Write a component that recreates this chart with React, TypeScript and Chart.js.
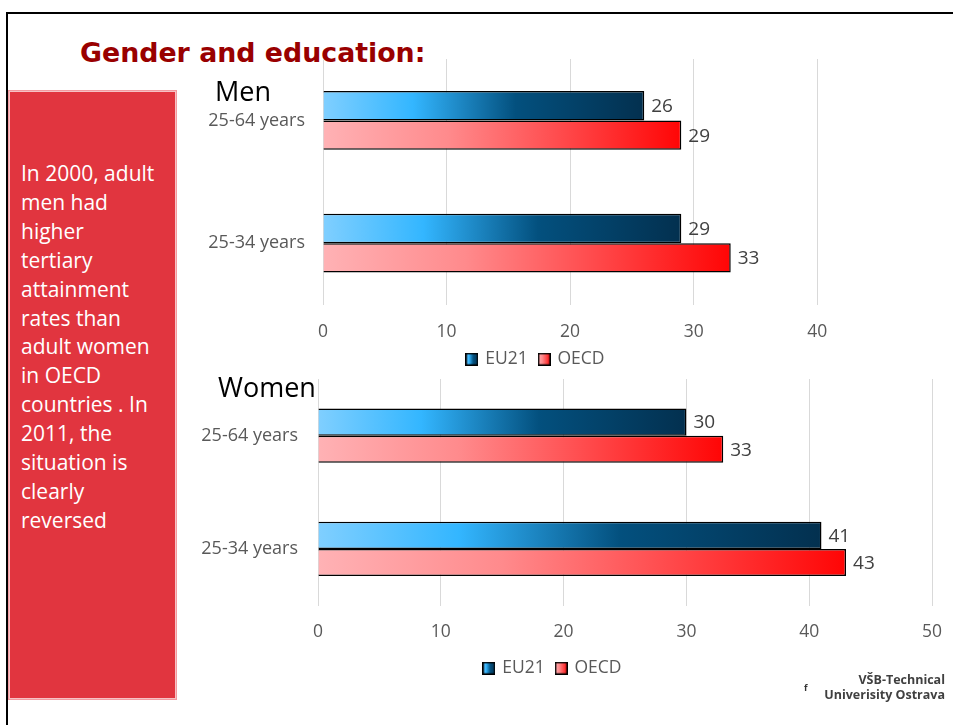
import React, { useEffect, useRef } from 'react';
import { Chart, registerables } from 'chart.js';

Chart.register(...registerables);
Chart.defaults.font.family = "'Open Sans', sans-serif";

// ---- data ----
const SERIES_NAMES = ['EU21', 'OECD'];
const CATEGORIES = ['25-64 years', '25-34 years'];
const MEN_EU21 = [26, 29];
const MEN_OECD = [29, 33];
const WOMEN_EU21 = [30, 41];
const WOMEN_OECD = [33, 43];
const MEN_TICKS = [0, 10, 20, 30, 40];
const WOMEN_TICKS = [0, 10, 20, 30, 40, 50];

const EU_STOPS: [number, string][] = [
  [0, '#80CFFF'],
  [0.28, '#33B6FF'],
  [0.6, '#03507E'],
  [1, '#03304F'],
];
const OECD_STOPS: [number, string][] = [
  [0, '#FFB2B5'],
  [0.35, '#FF8A8C'],
  [0.65, '#FF4D4F'],
  [1, '#FF0505'],
];

function barGradient(stops: [number, string][], fallback: string) {
  return (ctx: any) => {
    const chart = ctx.chart;
    const xs = chart.scales && chart.scales.x;
    if (!xs || ctx.type !== 'data' || typeof ctx.raw !== 'number') return fallback;
    const x0 = xs.getPixelForValue(0);
    const x1 = xs.getPixelForValue(ctx.raw);
    if (!isFinite(x0) || !isFinite(x1) || x1 === x0) return fallback;
    const g = chart.ctx.createLinearGradient(x0, 0, x1, 0);
    stops.forEach(([o, c]) => g.addColorStop(o, c));
    return g;
  };
}

function legendSwatch(stops: [number, string][]) {
  const c = document.createElement('canvas');
  c.width = 13;
  c.height = 13;
  const g2 = c.getContext('2d')!;
  const g = g2.createLinearGradient(0, 0, 13, 0);
  stops.forEach(([o, col]) => g.addColorStop(o, col));
  g2.fillStyle = g;
  g2.fillRect(0, 0, 13, 13);
  g2.strokeStyle = '#000';
  g2.lineWidth = 1.5;
  g2.strokeRect(0.75, 0.75, 11.5, 11.5);
  return c;
}

const valueLabels = {
  id: 'valueLabels',
  afterDatasetsDraw(chart: any) {
    const ctx = chart.ctx;
    ctx.save();
    ctx.font = "19px 'Open Sans', sans-serif";
    ctx.fillStyle = '#404040';
    ctx.textAlign = 'left';
    ctx.textBaseline = 'middle';
    chart.data.datasets.forEach((ds: any, i: number) => {
      const meta = chart.getDatasetMeta(i);
      meta.data.forEach((bar: any, j: number) => {
        ctx.fillText(String(ds.data[j]), bar.x + 7, bar.y + 1);
      });
    });
    ctx.restore();
  },
};

type BarProps = {
  left: number;
  top: number;
  width: number;
  height: number;
  eu: number[];
  oecd: number[];
  max: number;
  ticks: number[];
  yWidth: number;
  yPad: number;
  xPad: number;
  xHeight: number;
  padTop: number;
  padRight: number;
};

function BarChart(p: BarProps) {
  const ref = useRef<HTMLCanvasElement>(null);
  useEffect(() => {
    const canvas = ref.current!;
    const euSw = legendSwatch(EU_STOPS);
    const oeSw = legendSwatch(OECD_STOPS);
    const chart = new Chart(canvas, {
      type: 'bar',
      data: {
        labels: CATEGORIES,
        datasets: [
          {
            label: SERIES_NAMES[0],
            data: p.eu,
            backgroundColor: barGradient(EU_STOPS, '#1E7FC0') as any,
            borderColor: '#000000',
            borderWidth: 1.5,
            categoryPercentage: 0.48,
            barPercentage: 1,
          },
          {
            label: SERIES_NAMES[1],
            data: p.oecd,
            backgroundColor: barGradient(OECD_STOPS, '#FF6060') as any,
            borderColor: '#000000',
            borderWidth: 1.5,
            categoryPercentage: 0.48,
            barPercentage: 1,
          },
        ],
      },
      options: {
        indexAxis: 'y',
        responsive: false,
        animation: false,
        devicePixelRatio: 1,
        layout: { padding: { top: p.padTop, left: 0, right: p.padRight, bottom: 0 } },
        scales: {
          x: {
            min: 0,
            max: p.max,
            ticks: { stepSize: 10, padding: p.xPad, color: '#595959', font: { size: 17.5 } },
            grid: { color: '#D9D9D9', drawTicks: false, lineWidth: 1 },
            border: { display: false },
            afterBuildTicks: (s: any) => {
              s.ticks = p.ticks.map((v) => ({ value: v }));
            },
            afterFit: (s: any) => {
              s.height = p.xHeight;
              s.paddingLeft = 0;
              s.paddingRight = 0;
            },
          },
          y: {
            ticks: { padding: p.yPad, color: '#595959', font: { size: 18 } },
            grid: { display: false, drawTicks: false },
            border: { display: false },
            afterFit: (s: any) => {
              s.width = p.yWidth;
              s.paddingTop = 0;
              s.paddingBottom = 0;
            },
          },
        },
        plugins: {
          legend: {
            position: 'bottom',
            labels: {
              usePointStyle: true,
              boxWidth: 9,
              boxHeight: 13,
              padding: 12,
              color: '#595959',
              font: { size: 17.5 },
              generateLabels: () => [
                { text: SERIES_NAMES[0], pointStyle: euSw, fillStyle: '#1E7FC0', strokeStyle: '#000', lineWidth: 1, hidden: false, datasetIndex: 0, fontColor: '#595959' } as any,
                { text: SERIES_NAMES[1], pointStyle: oeSw, fillStyle: '#FF6060', strokeStyle: '#000', lineWidth: 1, hidden: false, datasetIndex: 1, fontColor: '#595959' } as any,
              ],
            },
          },
          tooltip: { enabled: false },
        },
      },
      plugins: [valueLabels],
    });
    return () => chart.destroy();
  }, []);
  return (
    <canvas
      ref={ref}
      width={p.width}
      height={p.height}
      style={{ position: 'absolute', left: p.left, top: p.top, width: p.width, height: p.height }}
    />
  );
}

export default function App() {
  return (
    <div
      style={{
        position: 'fixed',
        left: 0,
        top: 0,
        width: 953,
        height: 725,
        overflow: 'hidden',
        background: '#ffffff',
        fontFamily: "'Open Sans', sans-serif",
      }}
    >
      {/* slide frame */}
      <div
        style={{
          position: 'absolute',
          left: 6,
          top: 12,
          width: 1200,
          height: 1200,
          border: '2px solid #000',
          boxSizing: 'border-box',
        }}
      />
      {/* title */}
      <div
        style={{
          position: 'absolute',
          left: 80,
          top: 37,
          fontFamily: "'DejaVu Sans', Verdana, sans-serif",
          fontWeight: 'bold',
          fontSize: 26.8,
          lineHeight: '31px',
          color: '#990000',
          whiteSpace: 'nowrap',
        }}
      >
        Gender and education:
      </div>
      {/* red side box */}
      <div
        style={{
          position: 'absolute',
          left: 8,
          top: 90,
          width: 169,
          height: 610,
          background: '#E1353F',
          border: '1px solid #F39AA0',
          boxShadow: 'inset 0 0 0 1px #F6C2C5',
          boxSizing: 'border-box',
        }}
      />
      <div
        style={{
          position: 'absolute',
          left: 21,
          top: 159,
          color: '#ffffff',
          fontSize: 21,
          lineHeight: '28.9px',
          whiteSpace: 'nowrap',
        }}
      >
        In 2000, adult
        <br />
        men had
        <br />
        higher
        <br />
        tertiary
        <br />
        attainment
        <br />
        rates than
        <br />
        adult women
        <br />
        in OECD
        <br />
        countries . In
        <br />
        2011, the
        <br />
        situation is
        <br />
        clearly
        <br />
        reversed
      </div>

      <BarChart
        left={193}
        top={50}
        width={686}
        height={328}
        eu={MEN_EU21}
        oecd={MEN_OECD}
        max={45}
        ticks={MEN_TICKS}
        yWidth={130}
        yPad={18}
        xPad={17}
        xHeight={34}
        padTop={9}
        padRight={0}
      />
      <BarChart
        left={174}
        top={370}
        width={778}
        height={317}
        eu={WOMEN_EU21}
        oecd={WOMEN_OECD}
        max={50}
        ticks={WOMEN_TICKS}
        yWidth={144}
        yPad={20}
        xPad={16}
        xHeight={42}
        padTop={9}
        padRight={20}
      />

      <div
        style={{
          position: 'absolute',
          left: 215,
          top: 72,
          fontSize: 27,
          lineHeight: '37px',
          color: '#000',
          whiteSpace: 'nowrap',
        }}
      >
        Men
      </div>
      <div
        style={{
          position: 'absolute',
          left: 218,
          top: 368,
          fontSize: 27,
          lineHeight: '37px',
          color: '#000',
          whiteSpace: 'nowrap',
        }}
      >
        Women
      </div>

      {/* footer */}
      <div
        style={{
          position: 'absolute',
          left: 804,
          top: 681,
          fontSize: 9,
          fontWeight: 'bold',
          color: '#333',
        }}
      >
        f
      </div>
      <div
        style={{
          position: 'absolute',
          right: 8,
          top: 672,
          fontSize: 12.5,
          fontWeight: 'bold',
          lineHeight: '15px',
          color: '#404040',
          textAlign: 'right',
          whiteSpace: 'nowrap',
        }}
      >
        VŠB-Technical
        <br />
        Univerisity Ostrava
      </div>
    </div>
  );
}
